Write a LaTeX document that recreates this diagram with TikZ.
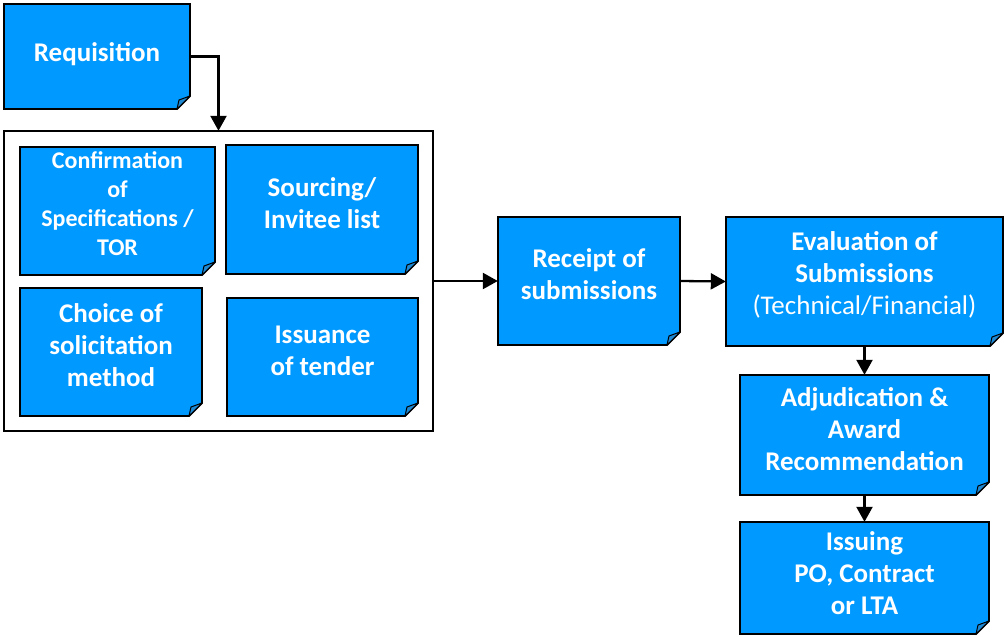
\documentclass[tikz,border=0pt]{standalone}
\usepackage{fontspec}
\setmainfont{Carlito}
\usetikzlibrary{arrows.meta}
\definecolor{notefill}{HTML}{0099FF}
\definecolor{flapfill}{HTML}{1E88D2}
\tikzset{
  noteline/.style={draw=black,line width=1.8pt,line join=miter},
  notebox/.style={inner sep=0pt,draw=none},
  notetext/.style={text=white,align=center,font=\bfseries\fontsize{27}{32}\selectfont,inner sep=0pt},
  smalltext/.style={notetext,font=\bfseries\fontsize{24}{29}\selectfont},
  conn/.style={draw=black,line width=2.3pt,-{Triangle[length=15pt,width=16pt]}},
}
\newcommand\pnote[8]{%
  \filldraw[noteline,fill=notefill] (#2,#3) -- (#4,#3) -- (#4,#5-13) -- (#4-13,#5) -- (#2,#5) -- cycle;
  \filldraw[draw=black,line width=1pt,fill=flapfill,line join=round] (#4-13,#5) -- (#4-11,#5-9) -- (#4,#5-13) -- cycle;
  \node[notebox,minimum width={#4-#2},minimum height={#5-#3}] (#1) at ({(#2+#4)/2},{(#3+#5)/2}) {};
  \node[#6] (#1t) at ({(#2+#4)/2},{(#3+#5)/2-#7}) {#8};
}
\begin{document}
\begin{tikzpicture}[x=1pt,y=-1pt]
\useasboundingbox (0,0) rectangle (1004,637);
\draw[line width=1.5pt] (4,131) rectangle (433,431);
\node[notebox,minimum width=429,minimum height=300] (cont) at (218.5,281) {};
\pnote{req}{4}{4}{190}{109}{notetext}{2}{Requisition}
\pnote{conf}{20}{147}{215}{275}{smalltext}{7}{Confirmation\\of\\Specifications /\\TOR}
\pnote{src}{226}{145}{418}{274}{notetext}{6}{Sourcing/\\Invitee list}
\pnote{choice}{20}{288}{202}{416}{notetext}{7}{Choice of\\solicitation\\method}
\pnote{iss}{227}{298}{418}{416}{notetext}{6}{Issuance\\of tender}
\pnote{rec}{498}{217}{680}{345}{notetext}{7}{Receipt of\\submissions}
\pnote{eval}{726}{217}{1003}{346}{notetext}{7}{Evaluation of\\Submissions\\{\mdseries(Technical/Financial)}}
\pnote{adj}{740}{375}{989}{495}{notetext}{6}{Adjudication \&\\Award\\Recommendation}
\pnote{po}{740}{522}{989}{634}{notetext}{5}{Issuing\\PO, Contract\\or LTA}
\draw[conn] (req.east) -| (cont.north);
\draw[conn] (cont.east) -- (rec.west);
\draw[conn] (rec.east) -- (eval.west);
\draw[conn] (eval.south) -- (adj.north);
\draw[conn] (adj.south) -- (po.north);
\end{tikzpicture}
\end{document}
